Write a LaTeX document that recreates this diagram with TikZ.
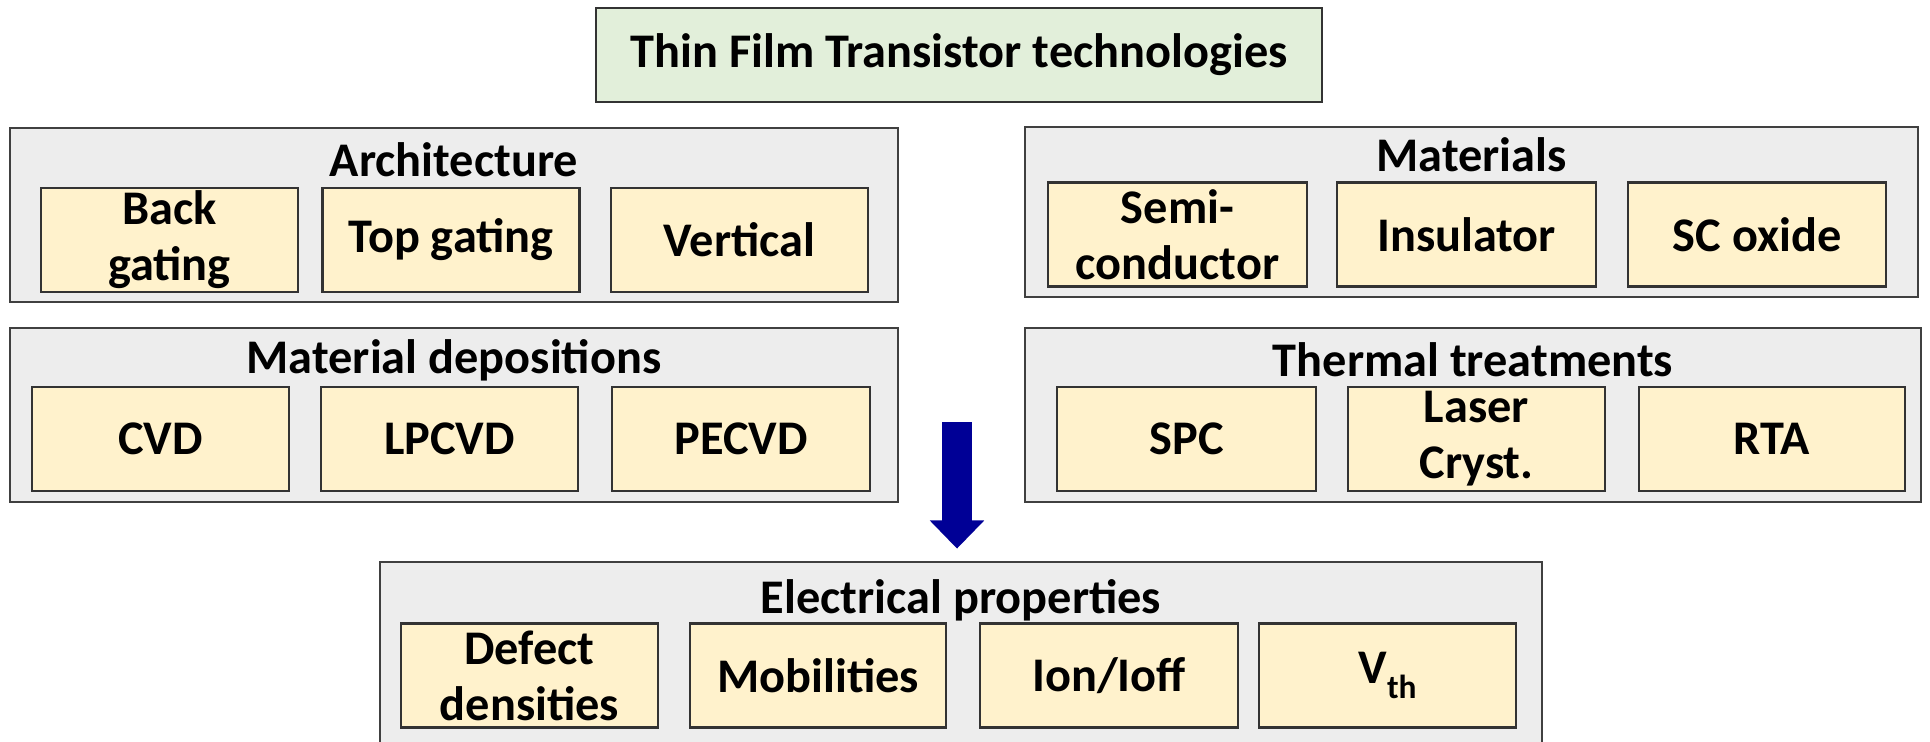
\documentclass[tikz,border=0pt]{standalone}
\usepackage{fontspec}
\setmainfont{Carlito}
\usetikzlibrary{arrows.meta, positioning}

\definecolor{groupfill}{RGB}{237,237,237}
\definecolor{itemfill}{RGB}{255,242,204}
\definecolor{topfill}{RGB}{226,239,218}
\definecolor{arrowblue}{RGB}{0,0,150}

\begin{document}
\begin{tikzpicture}[
        x=0.02cm, y=-0.02cm,
        every node/.style={font=\fontsize{27.5}{32}\selectfont\bfseries, inner sep=0pt},
        group/.style={draw=black!75, line width=1.6pt, fill=groupfill, minimum width=#1*0.02cm, minimum height=174*0.02cm},
        item/.style={draw=black!80, line width=1.4pt, fill=itemfill, align=center, minimum width=#1*0.02cm, minimum height=104*0.02cm},
        head/.style={font=\fontsize{27.5}{32}\selectfont\bfseries},
        arrow/.style={-{Triangle[width=30pt, length=16pt]}, line width=17pt, draw=arrowblue}
      ]
        \useasboundingbox (0,0) rectangle (1930,741);
        \clip (0,0) rectangle (1930,741);
        \node[draw=black!80, line width=1.6pt, fill=topfill, minimum width=726*0.02cm, minimum height=94*0.02cm] (tft) at (959,55) {Thin Film Transistor technologies};

        % architecture
        \node[group=888] (arch) at (454,215) {};
        \node[head] (archt) at (454,160) {Architecture};
        \node[item=257] (back) at (169.5,240) {Back\\gating};
        \node[item=257] (top) at (451,240) {Top gating};
        \node[item=257] (vert) at (739.5,240) {Vertical};

        % materials
        \node[group=893, minimum height=170*0.02cm] (mat) at (1471.5,212) {};
        \node[head] (matt) at (1471.5,155) {Materials};
        \node[item=259] (semi) at (1177.5,234.5) {Semi-\\conductor};
        \node[item=259] (insul) at (1466.5,234.5) {Insulator};
        \node[item=258] (scox) at (1757,234.5) {SC oxide};

        % material depositions
        \node[group=888] (dep) at (454,415) {};
        \node[head] (dept) at (454,360) {Material depositions};
        \node[item=257] (cvd) at (160.5,439) {CVD};
        \node[item=257] (lpcvd) at (449.5,439) {LPCVD};
        \node[item=258] (pecvd) at (741,439) {PECVD};

        % thermal treatments
        \node[group=896] (therm) at (1473,415) {};
        \node[head] (thermt) at (1473,360) {Thermal treatments};
        \node[item=259] (spc) at (1186.5,439) {SPC};
        \node[item=257] (laser) at (1476.5,439) {Laser\\Cryst.};
        \node[item=266] (rta) at (1772,439) {RTA};

        % electrical properties
        \node[group=1162, minimum height=220*0.02cm] (elec) at (961,672) {};
        \node[head] (elect) at (961,600) {Electrical properties};
        \node[item=257] (defect) at (529.5,675.5) {Defect\\densities};
        \node[item=256] (mobil) at (818,675.5) {Mobilities};
        \node[item=258] (ionoff) at (1109,675.5) {Ion/Ioff};
        \node[item=257] (vth) at (1387.5,675.5) {V\raisebox{-0.3em}{\fontsize{19}{19}\selectfont th}};

        \coordinate (src) at (957,422);
        \draw[arrow, shorten >=12*0.02cm] (src) -- (src |- elec.north);
      \end{tikzpicture}
\end{document}
